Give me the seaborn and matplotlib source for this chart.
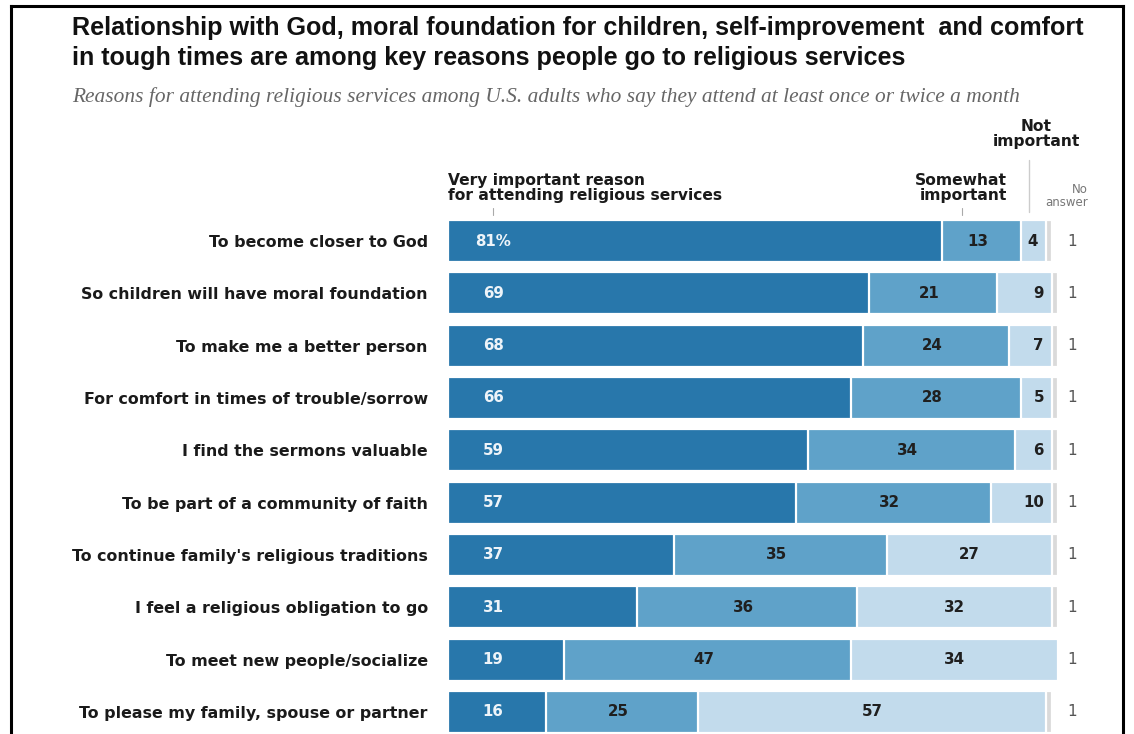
import matplotlib
matplotlib.use("Agg")
import matplotlib.pyplot as plt
from matplotlib.lines import Line2D
import seaborn as sns
import pandas as pd

# Survey data: share of monthly attenders citing each reason
reasons = [
    "To become closer to God",
    "So children will have moral foundation",
    "To make me a better person",
    "For comfort in times of trouble/sorrow",
    "I find the sermons valuable",
    "To be part of a community of faith",
    "To continue family's religious traditions",
    "I feel a religious obligation to go",
    "To meet new people/socialize",
    "To please my family, spouse or partner",
]
very_important = [81, 69, 68, 66, 59, 57, 37, 31, 19, 16]
somewhat_important = [13, 21, 24, 28, 34, 32, 35, 36, 47, 25]
not_important = [4, 9, 7, 5, 6, 10, 27, 32, 34, 57]
no_answer = [1, 1, 1, 1, 1, 1, 1, 1, 1, 1]

title = ("Relationship with God, moral foundation for children, self-improvement  and comfort\n"
         "in tough times are among key reasons people go to religious services")
subtitle = ("Reasons for attending religious services among U.S. adults who say they "
            "attend at least once or twice a month")

C_VERY = "#2877ab"
C_SOME = "#5fa2c9"
C_NOT = "#c2dbec"
C_NA = "#dadada"

df = pd.DataFrame({
    "reason": reasons,
    "very": very_important,
    "some": somewhat_important,
    "not": not_important,
    "na": no_answer,
})
df["cum_some"] = df["very"] + df["some"]
df["cum_not"] = df["cum_some"] + df["not"]
df["cum_na"] = df["cum_not"] + df["na"]

sns.set_theme(style="white")
plt.rcParams["font.family"] = ["DejaVu Sans"]

W, H = 1134, 734
fig = plt.figure(figsize=(W / 100, H / 100), dpi=100)


def fx(x):
    return x / W


def fy(y):
    return 1 - y / H


row0, step = 241.0, 52.33
n = len(reasons)
ax_top = row0 - step / 2
ax = fig.add_axes([fx(448), fy(ax_top + step * n), 610 / W, step * n / H])

# Stacked bars drawn back-to-front from cumulative totals
layers = [("cum_na", C_NA), ("cum_not", C_NOT), ("cum_some", C_SOME), ("very", C_VERY)]
for col, color in layers:
    sns.barplot(data=df, x=col, y="reason", order=reasons, color=color, saturation=1,
                width=0.8, edgecolor="white", linewidth=1.6, ax=ax, orient="h")

ax.set_xlim(0, 100)
ax.set_ylim(n - 0.5, -0.5)
ax.set_xlabel("")
ax.set_ylabel("")
ax.set_xticks([])
sns.despine(ax=ax, left=True, bottom=True)
ax.tick_params(axis="y", length=0, pad=14.5)
for lab in ax.get_yticklabels():
    lab.set_fontweight("bold")
    lab.set_fontsize(11.4)
    lab.set_color("#1a1a1a")

seg_kw = dict(va="center", fontsize=10.8, fontweight="bold")
for i in range(n):
    v, s, m, a = very_important[i], somewhat_important[i], not_important[i], no_answer[i]
    ax.text(7.4, i, f"{v}%" if i == 0 else f"{v}", ha="center", color="#eef4f9", **seg_kw)
    ax.text(v + s / 2 - 0.6, i, f"{s}", ha="center", color="#1f1f1f", **seg_kw)
    end_not = v + s + m
    if m <= 10:
        ax.text(end_not - 1.3, i, f"{m}", ha="right", color="#1f1f1f", **seg_kw)
    else:
        ax.text(end_not - m / 2, i, f"{m}", ha="center", color="#1f1f1f", **seg_kw)
    ax.text(102.3, i, f"{a}", ha="center", va="center", fontsize=11,
            color="#555555", clip_on=False)

# Title and subtitle
fig.text(fx(72), fy(16), title, ha="left", va="top", fontsize=18.1,
         fontweight="bold", color="#111111", linespacing=1.33,
         family=["Liberation Sans", "DejaVu Sans"])
fig.text(fx(72), fy(97), subtitle, ha="left", va="center", fontsize=15.4,
         style="italic", color="#666666", family=["Liberation Serif", "DejaVu Serif"])

# Column headers
hdr_kw = dict(fontsize=11.2, fontweight="bold", color="#1a1a1a", linespacing=1.0)
fig.text(fx(448), fy(188), "Very important reason\nfor attending religious services",
         ha="left", va="center", **hdr_kw)
fig.text(fx(1007), fy(188), "Somewhat\nimportant", ha="right", va="center", **hdr_kw)
fig.text(fx(1036), fy(134), "Not\nimportant", ha="center", va="center", **hdr_kw)
fig.text(fx(1088), fy(196), "No\nanswer", ha="right", va="center", fontsize=8.5,
         color="#777777", linespacing=1.05)

# Header tick marks and separator
for x in (493, 962):
    fig.add_artist(Line2D([fx(x), fx(x)], [fy(208), fy(215)], color="#aaaaaa", lw=0.8))
fig.add_artist(Line2D([fx(1029), fx(1029)], [fy(160), fy(212)], color="#cccccc", lw=1.0))

# Outer frame (open at the bottom)
frame_kw = dict(color="black", lw=2.2, solid_capstyle="projecting")
fig.add_artist(Line2D([fx(11), fx(11)], [fy(6), 0], **frame_kw))
fig.add_artist(Line2D([fx(1123), fx(1123)], [fy(6), 0], **frame_kw))
fig.add_artist(Line2D([fx(11), fx(1123)], [fy(6), fy(6)], **frame_kw))

fig.savefig("out.png", dpi=100, facecolor="white")
